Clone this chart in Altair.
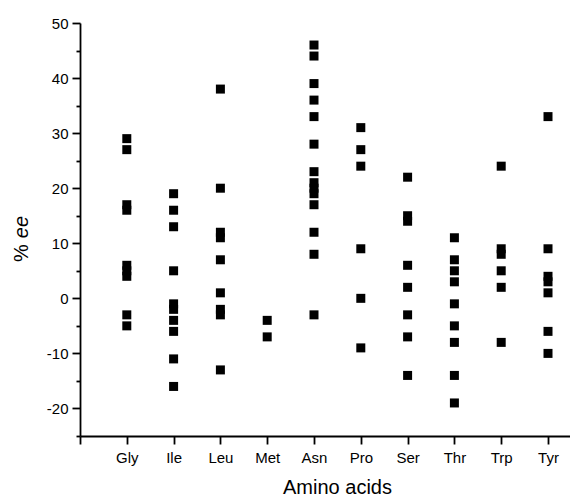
import altair as alt
import pandas as pd

categories = ["Gly", "Ile", "Leu", "Met", "Asn", "Pro", "Ser", "Thr", "Trp", "Tyr"]
gly = [29, 27, 17, 16, 6, 5, 4, -3, -5]
ile = [19, 16, 13, 5, -1, -2, -4, -6, -11, -16]
leu = [38, 20, 12, 11, 7, 1, -2, -3, -13]
met = [-4, -7]
asn = [46, 44, 39, 36, 33, 28, 23, 21, 20, 19, 17, 12, 8, -3]
pro = [31, 27, 24, 9, 0, -9]
ser = [22, 15, 14, 6, 2, -3, -7, -14]
thr = [11, 7, 5, 3, -1, -5, -8, -14, -19]
trp = [24, 9, 8, 5, 2, -8]
tyr = [33, 9, 4, 3, 1, -6, -10]
y_ticks = [-25, -20, -15, -10, -5, 0, 5, 10, 15, 20, 25, 30, 35, 40, 45, 50]
x_ticks = list(range(0, 11))

series = [gly, ile, leu, met, asn, pro, ser, thr, trp, tyr]
rows = []
for i, (cat, vals) in enumerate(zip(categories, series)):
    for v in vals:
        rows.append({"pos": i + 1, "cat": cat, "ee": v})
df = pd.DataFrame(rows)

FONT = "Liberation Sans"
xscale = alt.Scale(domain=[0, 10.47], nice=False, zero=False)
yscale = alt.Scale(domain=[-25, 50], nice=False, zero=False)

label_list = "[''," + ",".join("'%s'" % c for c in categories) + "]"

points = alt.Chart(df).mark_square(size=81, color="black", opacity=1).encode(
    x=alt.X("pos:Q", scale=xscale,
            axis=alt.Axis(values=x_ticks, labelExpr=label_list + "[datum.value]",
                          title="Amino acids", titleFontSize=20, titleFontWeight="normal",
                          titleX=257, titlePadding=12, labelPadding=6,
                          labelFontSize=15, tickSize=8)),
    y=alt.Y("ee:Q", scale=yscale,
            axis=alt.Axis(values=y_ticks,
                          labelExpr="datum.value % 10 == 0 ? '' + datum.value : ''",
                          title=None, labelFontSize=15,
                          tickSize={"condition": {"test": "datum.value % 10 != 0", "value": 4}, "value": 8},
                          labelPadding=4)),
)

pct = alt.Chart(pd.DataFrame({"t": ["%"]})).mark_text(
    angle=270, fontSize=20, font=FONT, color="black", align="center", baseline="middle"
).encode(x=alt.value(-58), y=alt.value(230), text="t:N")

ee = alt.Chart(pd.DataFrame({"t": ["ee"]})).mark_text(
    angle=270, fontSize=20, font=FONT, fontStyle="italic", color="black",
    align="center", baseline="middle"
).encode(x=alt.value(-58), y=alt.value(204), text="t:N")

chart = alt.layer(points, pct, ee).properties(
    width=490, height=413,
    autosize=alt.AutoSizeParams(type="none"),
    padding={"left": 72, "top": 15, "right": 0, "bottom": 60},
).configure_view(stroke=None).configure_axis(
    grid=False, domainColor="black", domainWidth=1.8, tickColor="black", tickWidth=1.8,
    labelColor="black", titleColor="black", labelFont=FONT, titleFont=FONT,
)

chart.save("out.html", embed_options={"renderer": "svg", "actions": False})
